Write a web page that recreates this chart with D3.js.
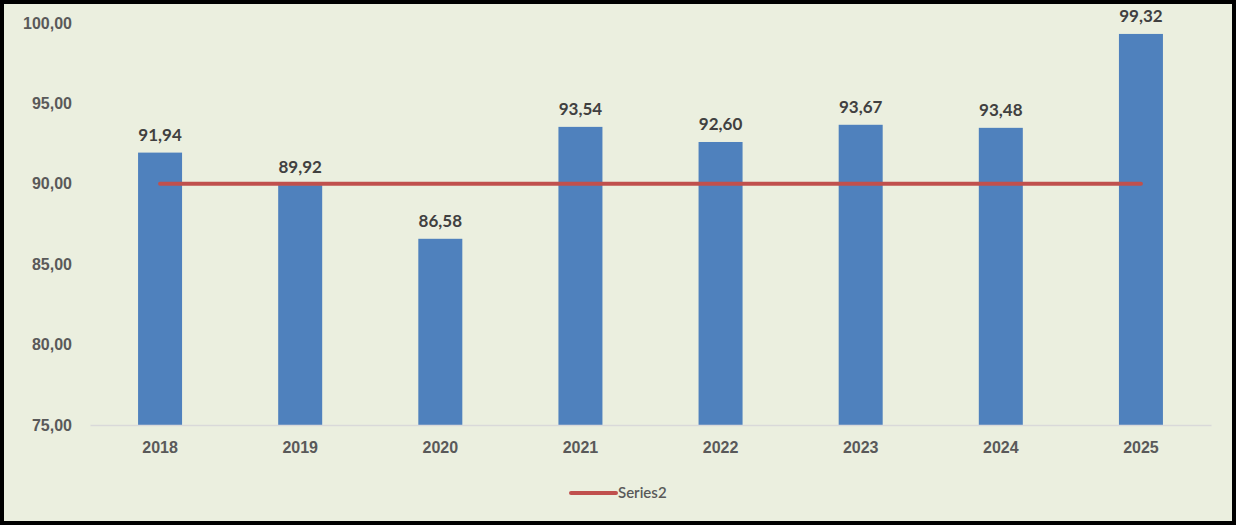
<!DOCTYPE html>
<html>
<head>
<meta charset="utf-8">
<script src="https://cdn.jsdelivr.net/npm/d3@7"></script>
<style>
  body { margin: 0; background: #fff; }
  svg { display: block; font-family: Lato, "Open Sans", sans-serif; }
</style>
</head>
<body>
<div id="chart"></div>
<script>
var years = ["2018", "2019", "2020", "2021", "2022", "2023", "2024", "2025"];
var series1 = [91.94, 89.92, 86.58, 93.54, 92.60, 93.67, 93.48, 99.32];
var series2 = [90, 90, 90, 90, 90, 90, 90, 90];
var yTicks = [75, 80, 85, 90, 95, 100];

var width = 1236, height = 525;
var margin = { top: 23, right: 25, bottom: 100, left: 90 },
    plotW = width - margin.left - margin.right,
    plotH = height - margin.top - margin.bottom;

var fmt = function(v) { return d3.format(".2f")(v).replace(".", ","); };

var svg = d3.select("#chart").append("svg")
  .attr("width", width)
  .attr("height", height);

// background + frame
svg.append("rect")
  .attr("x", 2).attr("y", 2)
  .attr("width", width - 4).attr("height", height - 4)
  .attr("fill", "#ebefdf")
  .attr("stroke", "#000")
  .attr("stroke-width", 4);

var g = svg.append("g")
  .attr("transform", "translate(" + margin.left + "," + margin.top + ")");

var x = d3.scaleBand()
  .domain(years)
  .range([0, plotW])
  .paddingInner(0.686)
  .paddingOuter(0.343);

var y = d3.scaleLinear()
  .domain([75, 100])
  .range([plotH, 0]);

// y axis labels
var yAxis = g.append("g")
  .call(d3.axisLeft(y).tickValues(yTicks).tickFormat(fmt).tickSize(0).tickPadding(18));
yAxis.select(".domain").remove();
yAxis.selectAll("text")
  .style("font-size", "16px")
  .style("font-weight", "bold")
  .attr("fill", "#595959");

// bars
g.selectAll(".bar")
  .data(series1)
  .enter()
  .append("rect")
  .attr("class", "bar")
  .attr("x", function(d, i) { return x(years[i]); })
  .attr("y", function(d) { return y(d); })
  .attr("width", x.bandwidth())
  .attr("height", function(d) { return plotH - y(d); })
  .attr("fill", "#4f81bd");

// x axis
var xAxis = g.append("g")
  .attr("transform", "translate(0," + plotH + ")")
  .call(d3.axisBottom(x).tickSize(0).tickPadding(17));
xAxis.select(".domain").attr("stroke", "#d9d9d9").attr("stroke-width", 1.5);
xAxis.selectAll("text")
  .style("font-size", "16px")
  .style("font-weight", "bold")
  .attr("fill", "#595959");

// value labels
g.selectAll(".label")
  .data(series1)
  .enter()
  .append("text")
  .attr("class", "label")
  .attr("x", function(d, i) { return x(years[i]) + x.bandwidth() / 2; })
  .attr("y", function(d) { return y(d) - 12; })
  .attr("text-anchor", "middle")
  .style("font-size", "17px")
  .style("font-weight", "bold")
  .attr("fill", "#404040")
  .text(function(d) { return fmt(d); });

// series2 line
var line = d3.line()
  .x(function(d, i) { return x(years[i]) + x.bandwidth() / 2; })
  .y(function(d) { return y(d); });

g.append("path")
  .datum(series2)
  .attr("d", line)
  .attr("fill", "none")
  .attr("stroke", "#c0504d")
  .attr("stroke-width", 4)
  .attr("stroke-linecap", "round");

// legend
var legend = svg.append("g")
  .attr("transform", "translate(571,493)");
legend.append("line")
  .attr("x1", 0).attr("x2", 45)
  .attr("y1", 0).attr("y2", 0)
  .attr("stroke", "#c0504d")
  .attr("stroke-width", 4)
  .attr("stroke-linecap", "round");
legend.append("text")
  .attr("x", 47)
  .attr("y", 0)
  .attr("dy", "0.35em")
  .style("font-size", "15px")
  .style("font-weight", "600")
  .attr("fill", "#595959")
  .text("Series2");
</script>
</body>
</html>
